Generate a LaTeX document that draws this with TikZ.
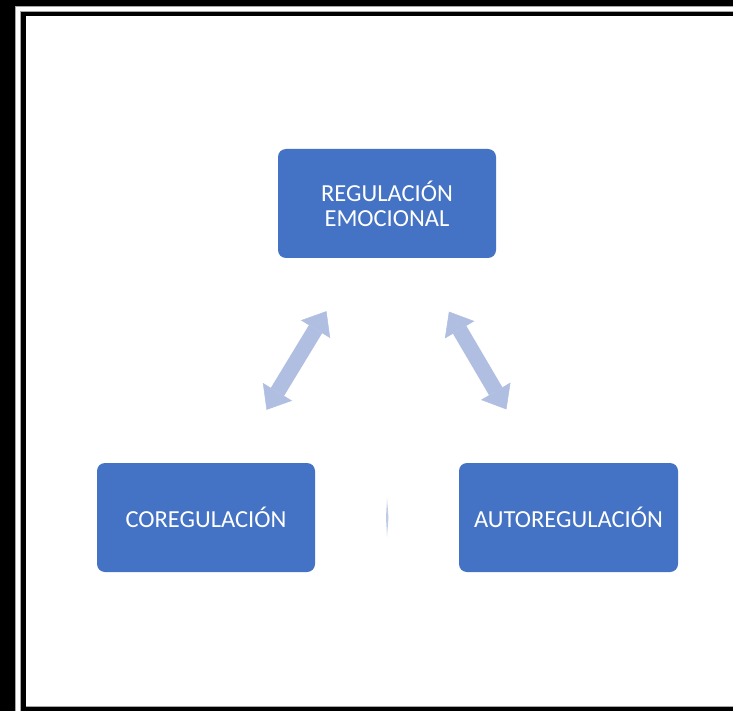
\documentclass[tikz,border=0pt]{standalone}
\usepackage{fontspec}
\setmainfont{Carlito}
\usetikzlibrary{arrows.meta,calc}
\definecolor{boxblue}{HTML}{4472C4}
\definecolor{arrowblue}{HTML}{B0BFE1}
\definecolor{framegrey}{HTML}{A6A6A6}
\begin{document}
\begin{tikzpicture}[x=1pt,y=-1pt,
  box/.style={rectangle, rounded corners=8pt, fill=boxblue, text=white,
    minimum width=218pt, minimum height=109pt, inner sep=0pt,
    font=\fontsize{24.5}{25}\selectfont, align=center},
  dblarrow/.style={draw=arrowblue, line width=15.5pt,
    {Triangle[length=21pt,width=34pt,line width=0.5pt]}-{Triangle[length=21pt,width=34pt,line width=0.5pt]},
    shorten <=62pt, shorten >=62pt}]
\useasboundingbox (0,0) rectangle (733,711);
% frame
\fill[white] (0,0) rectangle (733,711);
\fill[black] (0,0) rectangle (15,711);
\fill[black] (0,0) rectangle (733,6);
\fill[framegrey] (15,6) rectangle (16,711);
\fill[framegrey] (15,6) rectangle (733,7);
\fill[framegrey] (20,11) rectangle (21,711);
\fill[framegrey] (20,11) rectangle (733,12);
\fill[black] (21,12) rectangle (26,711);
\fill[black] (21,12) rectangle (733,16);
\fill[framegrey] (26,706) rectangle (733,707);
\fill[black] (21,707) rectangle (733,711);
% boxes
\node[box] (top) at (387,203.5) {REGULACIÓN\\EMOCIONAL};
\node[box] (left) at (206,517.5) {COREGULACIÓN};
\node[box, minimum width=219pt] (right) at (568.5,517.5) {AUTOREGULACIÓN};
% arrows
\draw[dblarrow] ($(left.north west)!0.63!(left.north east)$) -- ($(top.south west)!0.37!(top.south east)$);
\draw[dblarrow] ($(top.south west)!0.64!(top.south east)$) -- ($(right.north west)!0.36!(right.north east)$);
% collapsed arrow between the lower boxes
\coordinate (mid) at ($(left.east)!0.5!(right.west)$);
\fill[arrowblue!80] ($(mid)+(-1,0)$) -- ($(mid)+(0,-19)$) -- ($(mid)+(1.5,0)$) -- ($(mid)+(0,19)$) -- cycle;
\end{tikzpicture}
\end{document}
